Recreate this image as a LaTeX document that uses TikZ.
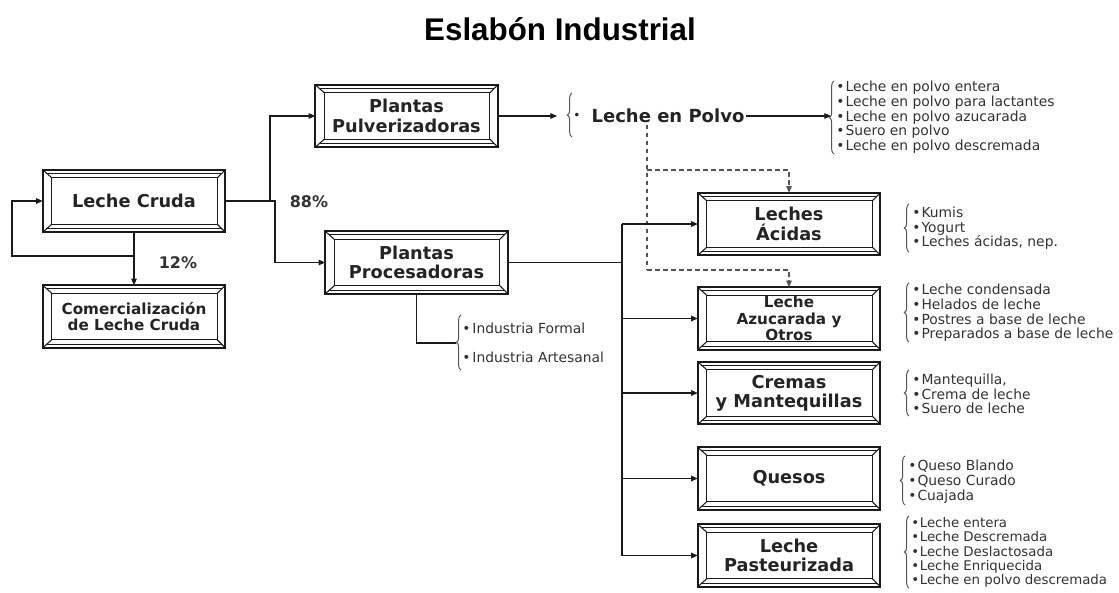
\documentclass[tikz,border=0pt]{standalone}
\usepackage{fontspec}
\setmainfont{DejaVu Sans}
\newfontfamily\titlefont{Liberation Sans}
\usetikzlibrary{arrows.meta,calc,decorations.pathreplacing}
\definecolor{ink}{HTML}{1A1A1A}
\definecolor{txt}{HTML}{242424}
\definecolor{ltxt}{HTML}{333333}
\definecolor{dgray}{HTML}{555555}
\newcommand\bevbox[1]{%
  \draw[bvo] (#1.north west) rectangle (#1.south east);
  \draw[bvt] ($(#1.north west)+(3.5,3.5)$) -- ($(#1.north east)+(-3.5,3.5)$);
  \draw[bvt] ($(#1.south west)+(3.5,-3.5)$) -- ($(#1.south east)+(-3.5,-3.5)$);
  \draw[bvi] ($(#1.north west)+(9,8)$) rectangle ($(#1.south east)+(-8,-8)$);
  \draw[bvi] (#1.north west) -- ++(9,8);
  \draw[bvi] (#1.north east) -- ++(-8,8);
  \draw[bvi] (#1.south west) -- ++(9,-8);
  \draw[bvi] (#1.south east) -- ++(-8,-8);
}
\begin{document}
\begin{tikzpicture}[x=0.75pt,y=-0.75pt,
  boxlbl/.style={inner sep=0pt, minimum width=136.5pt, minimum height=46.5pt, align=center, text=txt, font=\fontsize{13.3}{14.5}\selectfont\bfseries},
  smalllbl/.style={boxlbl, font=\fontsize{11.4}{12.4}\selectfont\bfseries},
  bvo/.style={draw=ink, line width=1.3pt},
  bvt/.style={draw=ink, line width=0.6pt},
  bvi/.style={draw=ink, line width=0.8pt},
  conn/.style={draw=ink, line width=0.8pt},
  arr/.style={conn, -{Triangle[length=5pt,width=4.2pt]}},
  dsh/.style={draw=dgray, line width=0.8pt, dash pattern=on 3.5pt off 2.5pt},
  dsharr/.style={dsh, -{Triangle[length=5pt,width=4.2pt]}},
  brc/.style={draw=dgray, line width=0.75pt, decorate, decoration={brace, amplitude=3.5pt}},
  lst/.style={anchor=west, align=left, inner sep=0pt, text=ltxt, font=\fontsize{10.4}{11}\selectfont},
  pct/.style={text=ltxt, font=\fontsize{12}{14}\selectfont\bfseries, inner sep=0pt},
]
\fill[white] (0,0) rectangle (1119,592);
\useasboundingbox (0,0) rectangle (1119,592);

% title
\node[font=\titlefont\bfseries\fontsize{23.5}{28}\selectfont, text=black] (title) at (560,29) {Eslabón Industrial};

% boxes
\node[boxlbl] (cruda) at (134,201) {Leche Cruda};
\node[smalllbl] (comer) at (134,316.5) {Comercialización\\de Leche Cruda};
\node[boxlbl] (pulv) at (406.5,116) {Plantas\\Pulverizadoras};
\node[boxlbl] (proc) at (416.5,262.5) {Plantas\\Procesadoras};
\node[boxlbl] (acidas) at (789,224) {Leches\\Ácidas};
\node[smalllbl] (azuc) at (789,318.5) {Leche\\Azucarada y\\Otros};
\node[boxlbl] (cremas) at (789,393) {Cremas\\y Mantequillas};
\node[boxlbl] (quesos) at (789,478.5) {Quesos};
\node[boxlbl] (past) at (789,555.5) {Leche\\Pasteurizada};
\foreach \n in {cruda,comer,pulv,proc,acidas,azuc,cremas,quesos,past}{\bevbox{\n}}

% percentages
\node[pct] (p88) at (309,202) {88\%};
\node[pct] (p12) at (178,263) {12\%};

% Leche Cruda connections
\draw[arr] (cruda.south) -- (comer.north);
\coordinate (lp) at (12,256);
\draw[arr] (cruda.south |- lp) -- (lp) |- (cruda.west);
\coordinate (j1) at (270,201);
\coordinate (j2) at (275,201);
\draw[arr] (cruda.east) -- (j1) |- (pulv.west);
\draw[arr] (j1) -- (j2) |- (proc.west);

% Leche en Polvo
\node[font=\fontsize{13.5}{15}\selectfont\bfseries, text=txt, inner sep=1pt] (polvo) at (668,116) {Leche en Polvo};
\node[font=\fontsize{9}{10}\selectfont, text=txt, inner sep=0pt] (pbul) at (577,116) {•};
\draw[brc] (572,137) -- (572,93);
\coordinate (pb) at (557,116);
\draw[arr] (pulv.east) -- (pb);
\coordinate (tb) at (831,116);
\draw[arr] (polvo.east) -- (tb);

% top list
\draw[brc] (834,154) -- (834,81);
\node[lst] (ltop) at (836,117.5) {•\kern0.8pt Leche en polvo entera\\•\kern0.8pt Leche en polvo para lactantes\\•\kern0.8pt Leche en polvo azucarada\\•\kern0.8pt Suero en polvo\\•\kern0.8pt Leche en polvo descremada};

% dashed links
\coordinate (dv) at (647,0);
\coordinate (d1) at (0,170);
\coordinate (d2) at (0,270);
\draw[dsh] (dv |- polvo.south) -- (dv |- d2);
\draw[dsharr] (dv |- d1) -| (acidas.north);
\draw[dsharr] (dv |- d2) -| (azuc.north);

% Procesadoras -> industria
\coordinate (ib) at (456,343);
\draw[conn] (proc.south) |- (ib);
\draw[brc] (461,370) -- (461,315);
\node[lst, font=\fontsize{10.4}{21.75}\selectfont] (lind) at (462,342.5) {•\kern1.5pt Industria Formal\\•\kern1.5pt Industria Artesanal};

% bus
\coordinate (bus) at (622,0);
\draw[conn] (proc.east) -- (bus |- proc.east);
\draw[conn] (bus |- acidas.west) -- (bus |- past.west);
\draw[draw=ink, line width=1.7pt] (bus |- proc.east) -- (bus |- cremas.west);
\foreach \n in {acidas,azuc,cremas,quesos,past}{\draw[arr] (bus |- \n.west) -- (\n.west);}

% right lists
\draw[brc] (909,252) -- (909,204);
\node[lst] (lac) at (912,228.5) {•\kern0.8pt Kumis\\•\kern0.8pt Yogurt\\•\kern0.8pt Leches ácidas, nep.};
\draw[brc] (909,342) -- (909,283);
\node[lst] (laz) at (912,313) {•\kern0.8pt Leche condensada\\•\kern0.8pt Helados de leche\\•\kern0.8pt Postres a base de leche\\•\kern0.8pt Preparados a base de leche};
\draw[brc] (909,416) -- (909,370);
\node[lst] (lcr) at (912,394) {•\kern0.8pt Mantequilla,\\•\kern0.8pt Crema de leche\\•\kern0.8pt Suero de leche};
\draw[brc] (905,505) -- (905,456);
\node[lst] (lqu) at (908,481.5) {•\kern0.8pt Queso Blando\\•\kern0.8pt Queso Curado\\•\kern0.8pt Cuajada};
\draw[brc] (909,588) -- (909,516);
\node[lst, font=\fontsize{10}{10.8}\selectfont] (lpa) at (911,552.5) {•\kern0.5pt Leche entera\\•\kern0.5pt Leche Descremada\\•\kern0.5pt Leche Deslactosada\\•\kern0.5pt Leche Enriquecida\\•\kern0.5pt Leche en polvo descremada};
\end{tikzpicture}
\end{document}
